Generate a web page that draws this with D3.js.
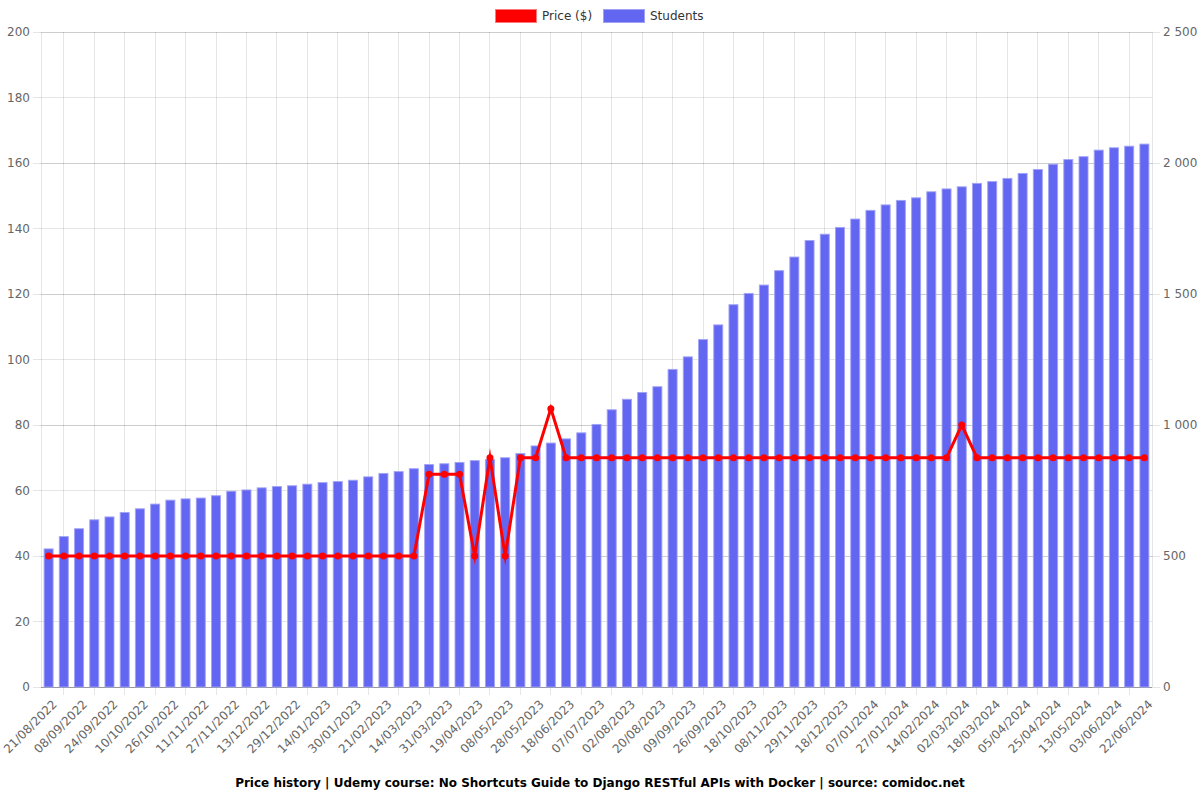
<!DOCTYPE html>
<html>
<head>
<meta charset="utf-8">
<script src="https://cdn.jsdelivr.net/npm/d3@7"></script>
<style>
  html, body { margin: 0; padding: 0; background: #fff; }
  svg { display: block; font-family: "DejaVu Sans", sans-serif; }
</style>
</head>
<body>
<svg id="chart" width="1200" height="800"></svg>
<script>
// ---- data ----
const tickLabels = ["21/08/2022","08/09/2022","24/09/2022","10/10/2022","26/10/2022","11/11/2022","27/11/2022","13/12/2022","29/12/2022","14/01/2023","30/01/2023","21/02/2023","14/03/2023","31/03/2023","19/04/2023","08/05/2023","28/05/2023","18/06/2023","07/07/2023","02/08/2023","20/08/2023","09/09/2023","26/09/2023","18/10/2023","08/11/2023","29/11/2023","18/12/2023","07/01/2024","27/01/2024","14/02/2024","02/03/2024","18/03/2024","05/04/2024","25/04/2024","13/05/2024","03/06/2024","22/06/2024"];
const students = [529,576,606,640,651,668,682,700,715,720,723,732,749,754,762,767,770,776,782,786,791,804,817,824,835,
  851,854,859,866,870,877,893,922,933,949,972,1004,1060,1100,1126,1148,
  1214,1262,1328,1384,1461,1504,1536,1591,1643,
  1706,1730,1756,1788,1821,1842,1859,1869,1892,1903,1911,1924,1931,1943,1962,1977,1997,2015,2026,2051,2060,2066,2074];
const price = [40,40,40,40,40,40,40,40,40,40,40,40,40,40,40,40,40,40,40,40,40,40,40,40,40,
  65,65,65,40,70,40,70,70,85,
  70,70,70,70,70,70,70,70,70,70,70,70,70,70,70,70,70,70,70,70,70,70,70,70,70,70,
  80,
  70,70,70,70,70,70,70,70,70,70,70,70];
const priceTicks = [0,20,40,60,80,100,120,140,160,180,200];
const studentTicks = [0,500,1000,1500,2000,2500];
const legendItems = ["Price ($)", "Students"];
const titleText = "Price history | Udemy course: No Shortcuts Guide to Django RESTful APIs with Docker | source: comidoc.net";

// ---- layout ----
const L = 41, R = 1152, T = 32, B = 687;
const svg = d3.select("#chart");
const idx = d3.range(students.length);
const x = d3.scaleBand().domain(idx).range([L, R]).padding(0);
const bw = x.bandwidth();
const cx = i => x(i) + bw / 2;
const yL = d3.scaleLinear().domain([0, 200]).range([B, T]);
const yR = d3.scaleLinear().domain([0, 2500]).range([B, T]);
const gridColor = "rgba(0,0,0,0.1)";
const fmt = v => d3.format(",")(v).replace(/,/g, " ");

// horizontal grid (left axis)
svg.append("g").selectAll("line").data(priceTicks).join("line")
  .attr("x1", L - 8).attr("x2", R).attr("y1", d => yL(d)).attr("y2", d => yL(d))
  .attr("stroke", gridColor).attr("shape-rendering", "crispEdges");
// horizontal grid (right axis)
svg.append("g").selectAll("line").data(studentTicks).join("line")
  .attr("x1", L).attr("x2", R + 8).attr("y1", d => yR(d)).attr("y2", d => yR(d))
  .attr("stroke", gridColor).attr("shape-rendering", "crispEdges");
// vertical grid at midpoints between shown ticks
const vIdx = idx.filter(i => i % 2 === 1);
svg.append("g").selectAll("line").data(vIdx).join("line")
  .attr("x1", d => cx(d)).attr("x2", d => cx(d)).attr("y1", T).attr("y2", B + 8)
  .attr("stroke", gridColor).attr("shape-rendering", "crispEdges");
svg.append("line").attr("x1", L).attr("x2", L).attr("y1", T).attr("y2", B)
  .attr("stroke", gridColor).attr("shape-rendering", "crispEdges");
svg.append("line").attr("x1", R).attr("x2", R).attr("y1", T).attr("y2", B)
  .attr("stroke", gridColor).attr("shape-rendering", "crispEdges");
svg.append("line").attr("x1", L).attr("x2", R).attr("y1", B).attr("y2", B)
  .attr("stroke", "rgba(0,0,0,0.25)").attr("shape-rendering", "crispEdges");

// left axis labels
svg.append("g").selectAll("text").data(priceTicks).join("text")
  .attr("x", L - 11).attr("y", d => yL(d)).attr("dy", "0.35em")
  .attr("text-anchor", "end").attr("font-size", 12).attr("fill", "#666")
  .text(d => d);
// right axis labels
svg.append("g").selectAll("text").data(studentTicks).join("text")
  .attr("x", R + 11).attr("y", d => yR(d)).attr("dy", "0.35em")
  .attr("text-anchor", "start").attr("font-size", 12).attr("fill", "#666")
  .text(d => fmt(d));

// x labels
svg.append("g").selectAll("text").data(tickLabels).join("text")
  .attr("transform", (d, k) => `translate(${cx(k * 2) + 6},${B + 15}) rotate(-45)`)
  .attr("dy", "0.35em")
  .attr("text-anchor", "end").attr("font-size", 12).attr("fill", "#666")
  .text(d => d);

// bars
const barW = 10;
svg.append("g").selectAll("rect").data(students).join("rect")
  .attr("x", (d, i) => cx(i) - barW / 2 + 0.5)
  .attr("width", barW - 1)
  .attr("y", d => yR(d) + 0.5)
  .attr("height", d => B - yR(d) - 0.5)
  .attr("fill", "#6366f1")
  .attr("stroke", "rgba(160,162,246,0.9)").attr("stroke-width", 1);

// price line
const line = d3.line().x((d, i) => cx(i)).y(d => yL(d));
svg.append("path").datum(price).attr("d", line)
  .attr("fill", "none").attr("stroke", "#ff0000").attr("stroke-width", 3)
  .attr("stroke-linejoin", "miter").attr("stroke-miterlimit", 10);
svg.append("g").selectAll("circle").data(price).join("circle")
  .attr("cx", (d, i) => cx(i)).attr("cy", d => yL(d)).attr("r", 3.5)
  .attr("fill", "#ff0000");

// legend
const lg = svg.append("g");
const legendColors = ["#ff0000", "#6366f1"];
const legendBorders = ["rgba(255,120,120,1)", "rgba(160,162,246,1)"];
const legendX = [495, 603];
legendItems.forEach((t, k) => {
  lg.append("rect").attr("x", legendX[k] + 0.5).attr("y", 9.5).attr("width", 41).attr("height", 13)
    .attr("fill", legendColors[k]).attr("stroke", legendBorders[k]).attr("stroke-width", 1);
  lg.append("text").attr("x", legendX[k] + 47).attr("y", 16).attr("dy", "0.35em")
    .attr("font-size", 12).attr("fill", "#333").text(t);
});

// title
svg.append("text").attr("x", 600).attr("y", 783).attr("dy", "0.35em")
  .attr("text-anchor", "middle").attr("font-size", 12).attr("font-weight", "bold")
  .attr("fill", "#000").text(titleText);
</script>
</body>
</html>
